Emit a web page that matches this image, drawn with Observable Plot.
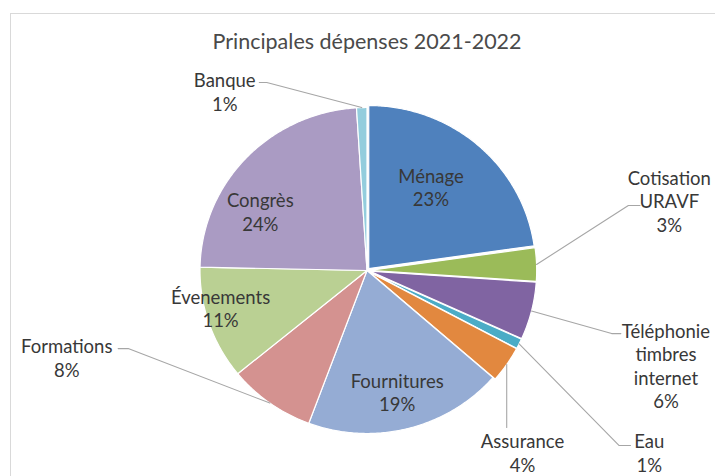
<!DOCTYPE html>
<html><head><meta charset="utf-8">
<script src="https://cdn.jsdelivr.net/npm/d3@7"></script>
<script src="https://cdn.jsdelivr.net/npm/@observablehq/plot@0.6"></script>
<style>
html,body{margin:0;padding:0;background:#fff;overflow:hidden;}
#wrap{position:relative;width:715px;height:476px;overflow:hidden;}
#frame{position:absolute;left:10px;top:13px;width:800px;height:600px;border:1.5px solid #d9d9d9;box-sizing:border-box;}
#chart{position:absolute;left:0;top:0;}
</style></head><body>
<div id="wrap"><div id="frame"></div><div id="chart"></div></div>
<script>
// ---- data ----
const title = "Principales dépenses 2021-2022";
const categories = ["Ménage","Cotisation URAVF","Téléphonie timbres internet","Eau","Assurance","Fournitures","Formations","Évenements","Congrès","Banque"];
const labelNames = ["Ménage","Cotisation\nURAVF","Téléphonie\ntimbres\ninternet","Eau","Assurance","Fournitures","Formations","Évenements","Congrès","Banque"];
const values = [22.7, 3.3, 5.7, 1.0, 3.6, 19.2, 8.4, 11.2, 23.6, 1.0];
const colors = ["#4f81bd","#9bbb59","#8064a2","#4bacc6","#e2883f","#95acd4","#d49290","#bad093","#aa9bc3","#93cddd"];
const explodedSlices = ["Ménage","Cotisation URAVF","Téléphonie timbres internet","Eau","Assurance"];

// ---- layout (pie-normalised units: u right, v up, radius = 1) ----
const explode = 0.016;
const labelLayout = {
  "Ménage": {lu: 0.383, lv: 0.512},
  "Congrès": {lu: -0.639, lv: 0.362},
  "Évenements": {lu: -0.877, lv: -0.231},
  "Fournitures": {lu: 0.181, lv: -0.745},
  "Banque": {lu: -0.852, lv: 1.098, eu: -0.60, ev: 1.153, hu: -0.645},
  "Cotisation URAVF": {lu: 1.81, lv: 0.429, eu: 1.565, ev: 0.399, hu: 1.635},
  "Téléphonie timbres internet": {lu: 1.79, lv: -0.583, eu: 1.465, ev: -0.387, hu: 1.52},
  "Eau": {lu: 1.69, lv: -1.117, eu: 1.51, ev: -1.074, hu: 1.578},
  "Assurance": {lu: 0.931, lv: -1.117, ev: -0.963, vertical: true},
  "Formations": {lu: -1.798, lv: -0.534, eu: -1.43, ev: -0.479, hu: -1.49}
};

const total = d3.sum(values);
const arcs = d3.pie().sort(null).value(d => d)(values);

const slicePts = [];
const labels = [];
const leaders = [];
arcs.forEach((a, i) => {
  const name = categories[i];
  const mid = (a.startAngle + a.endAngle) / 2;
  const off = explodedSlices.includes(name) ? explode : 0;
  const ou = off * Math.sin(mid), ov = off * Math.cos(mid);
  slicePts.push({name, u: ou, v: ov});
  const n = Math.max(4, Math.ceil((a.endAngle - a.startAngle) / 0.01));
  for (let k = 0; k <= n; k++) {
    const t = a.startAngle + (a.endAngle - a.startAngle) * k / n;
    slicePts.push({name, u: ou + Math.sin(t), v: ov + Math.cos(t)});
  }
  const L = labelLayout[name];
  labels.push({name, u: L.lu, v: L.lv, text: labelNames[i] + "\n" + Math.round(values[i] / total * 100) + "%"});
  if (L.eu !== undefined || L.vertical) {
    const su = ou + Math.sin(mid), sv = ov + Math.cos(mid);
    leaders.push({name, u: su, v: sv});
    if (L.vertical) {
      leaders.push({name, u: su, v: L.ev});
    } else {
      leaders.push({name, u: L.eu, v: L.ev});
      leaders.push({name, u: L.hu, v: L.ev});
    }
  }
});

const cx = 366.5, cy = 270, rx = 167, ry = 163;
const chart = Plot.plot({
  width: 715, height: 476, margin: 0,
  x: {domain: [-1, 1], range: [cx - rx, cx + rx], axis: null},
  y: {domain: [-1, 1], range: [cy + ry, cy - ry], axis: null},
  color: {domain: categories, range: colors},
  style: {fontFamily: "Lato, 'Open Sans', sans-serif", background: "transparent", overflow: "visible"},
  marks: [
    Plot.line(slicePts, {x: "u", y: "v", z: "name", fill: "name", stroke: "white", strokeWidth: 1.2, curve: "linear-closed"}),
    Plot.line(leaders, {x: "u", y: "v", z: "name", stroke: "#a6a6a6", strokeWidth: 1.1, curve: "linear"}),
    Plot.text(labels, {x: "u", y: "v", text: "text", fill: "#383838", fontSize: 18.5, lineHeight: 1.27, lineAnchor: "middle"}),
    Plot.text([{t: title, u: 0, v: 1.40}], {x: "u", y: "v", text: "t", fill: "#4a4a4a", fontSize: 21.5, lineAnchor: "middle"})
  ]
});
document.getElementById("chart").appendChild(chart);
</script>
</body></html>
